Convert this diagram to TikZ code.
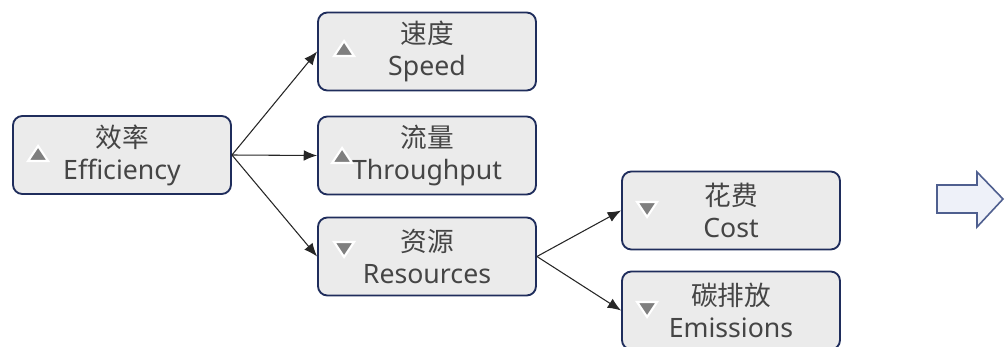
\documentclass[tikz,border=0pt]{standalone}
\usepackage{fontspec}
\setmainfont{Noto Sans}
\newfontfamily\cjk{Noto Sans CJK SC}
\usetikzlibrary{arrows.meta,calc}

\definecolor{boxfill}{HTML}{EBEBEB}
\definecolor{boxline}{HTML}{1F2D5C}
\definecolor{txt}{HTML}{454545}
\definecolor{trifill}{HTML}{7F7F7F}
\definecolor{bigfill}{HTML}{EEF1F9}
\definecolor{bigline}{HTML}{4F5F8F}

\begin{document}
\begin{tikzpicture}[x=0.75pt, y=-0.75pt,
measure/.style={rectangle, draw=boxline, fill=boxfill, line width=1.4pt,
  rounded corners=7pt, minimum width=163.5pt, minimum height=58.5pt,
  align=center, text=txt, font=\fontsize{20}{24}\selectfont, inner sep=0pt},
tri/.style={fill=trifill, draw=white, line width=1.6pt, line join=miter},
link/.style={line width=0.8pt, draw=black!85, -{Latex[length=10pt,width=8pt]}}
    ]

  \useasboundingbox (0,0) rectangle (1005,346);

  % boxes
  \node[measure] (eff)   at (122,155) {{\cjk 效率}\\Efficiency};
  \node[measure] (speed) at (427,51.5)  {{\cjk 速度}\\Speed};
  \node[measure] (thru)  at (427,155.5) {{\cjk 流量}\\Throughput};
  \node[measure] (res)   at (427,256.5) {{\cjk 资源}\\Resources};
  \node[measure] (cost)  at (731,210.5) {{\cjk 花费}\\Cost};
  \node[measure] (emis)  at (731,310.5) {{\cjk 碳排放}\\Emissions};

  % up / down marks
  \filldraw[tri] ($(eff.west)+(26,0)$) ++(-10,6) -- ++(20,0) -- ++(-10,-15) -- cycle;
  \filldraw[tri] ($(speed.west)+(27,-1.5)$) ++(-10,6) -- ++(20,0) -- ++(-10,-15) -- cycle;
  \filldraw[tri] ($(thru.west)+(25,1.5)$) ++(-10,6) -- ++(20,0) -- ++(-10,-15) -- cycle;
  \filldraw[tri] ($(res.west)+(27,-8.5)$) ++(-10,-6) -- ++(20,0) -- ++(-10,15) -- cycle;
  \filldraw[tri] ($(cost.west)+(26,-2.5)$) ++(-10,-6) -- ++(20,0) -- ++(-10,15) -- cycle;
  \filldraw[tri] ($(emis.west)+(26,-2.5)$) ++(-10,-6) -- ++(20,0) -- ++(-10,15) -- cycle;

  % links
  \draw[link] (eff.east) -- (speed.west);
  \draw[link] (eff.east) -- (thru.west);
  \draw[link] (eff.east) -- (res.west);
  \draw[link] (res.east) -- (cost.west);
  \draw[link] (res.east) -- (emis.west);

  % big arrow
  \filldraw[fill=bigfill, draw=bigline, line width=1.2pt, line join=miter]
    (937,185) -- (977,185) -- (977,172) -- (1003,199) -- (977,227) -- (977,213) -- (937,213) -- cycle;
\end{tikzpicture}
\end{document}
